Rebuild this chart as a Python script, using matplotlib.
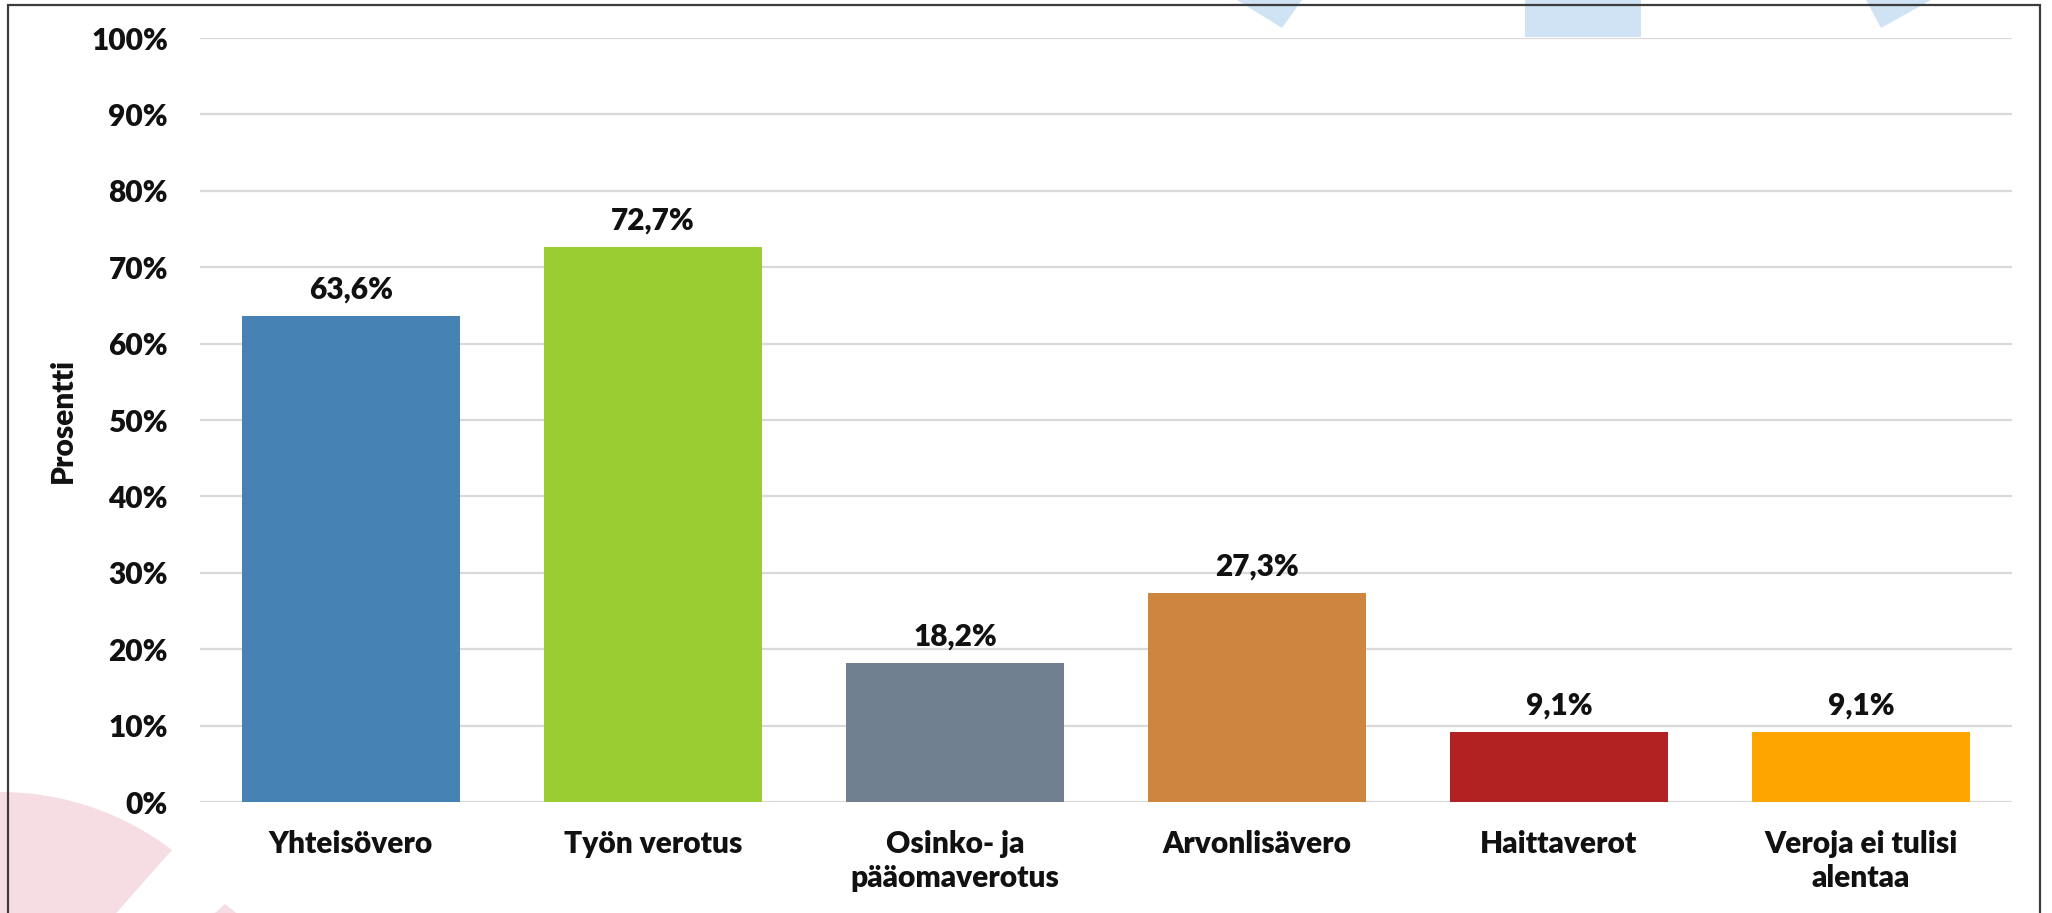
import matplotlib
matplotlib.use("Agg")
import matplotlib.pyplot as plt
from matplotlib.patches import Polygon, Rectangle
import numpy as np

categories = ["Yhteisövero", "Työn verotus", "Osinko- ja\npääomaverotus",
              "Arvonlisävero", "Haittaverot", "Veroja ei tulisi\nalentaa"]
values = [63.6, 72.7, 18.2, 27.3, 9.1, 9.1]
value_labels = ["63,6%", "72,7%", "18,2%", "27,3%", "9,1%", "9,1%"]
colors = ["#4682B4", "#9ACD32", "#708090", "#CD853F", "#B22222", "#FFA500"]
yticks = [0, 10, 20, 30, 40, 50, 60, 70, 80, 90, 100]
ytick_labels = [f"{t}%" for t in yticks]

W, H = 2052, 913
plt.rcParams['font.family'] = ['Lato', 'DejaVu Sans']
fig = plt.figure(figsize=(W / 100, H / 100), dpi=100)
FW = "heavy"
FS = 21.5

def fp(x, y):
    return (x / W, 1 - y / H)

# background decorations
blue = "#cfe3f4"
pink = "#f6dde3"
deco = [
    Polygon([fp(1237, 0), fp(1302, 0), fp(1282, 28)], closed=True),
    Polygon([fp(1525, 0), fp(1641, 0), fp(1641, 37), fp(1525, 37)], closed=True),
    Polygon([fp(1866, 0), fp(1931, 0), fp(1881, 28)], closed=True),
]
for p in deco:
    p.set_facecolor(blue); p.set_edgecolor("none"); p.set_transform(fig.transFigure)
    p.set_zorder(0)
    fig.add_artist(p)

# pink sector bottom-left
cx, cy, R = 0, 1076, 284
angs = np.linspace(np.pi / 2 + 0.3, np.arctan2(1076 - 850, 172), 60)
pts = [fp(cx + R * np.cos(a), cy - R * np.sin(a)) for a in angs]
pts += [fp(110, 920), fp(-20, 920)]
ps = Polygon(pts, closed=True, facecolor=pink, edgecolor="none",
             transform=fig.transFigure, zorder=0)
fig.add_artist(ps)
ps2 = Polygon([fp(225, 904), fp(245, 920), fp(207, 920)], closed=True,
              facecolor=pink, edgecolor="none", transform=fig.transFigure, zorder=0)
fig.add_artist(ps2)

# frame
frame = Rectangle(fp(8, 930), (2040 - 8) / W, (930 - 5) / H, fill=False,
                  edgecolor="#3c3c3c", linewidth=1.6, transform=fig.transFigure, zorder=1)
fig.add_artist(frame)

ax = fig.add_axes([200 / W, 1 - 802 / H, (2012 - 200) / W, (802 - 38) / H])
ax.set_facecolor("none")
x = np.arange(len(categories))
bars = ax.bar(x, values, width=0.72, color=colors, zorder=3)
for xi, v, lab in zip(x, values, value_labels):
    ax.annotate(lab, (xi, v), xytext=(0, 9), textcoords="offset points",
                ha="center", va="bottom", fontsize=FS, fontweight=FW, color="#111111")

ax.set_xlim(-0.5, len(categories) - 0.5)
ax.set_ylim(0, 100)
ax.set_yticks(yticks)
ax.set_yticklabels(ytick_labels)
ax.set_xticks(x)
ax.set_xticklabels(categories, linespacing=1.25)
ax.tick_params(axis="both", length=0, labelsize=FS, colors="#111111")
ax.tick_params(axis="y", pad=23)
ax.tick_params(axis="x", pad=20)
for lbl in ax.get_xticklabels() + ax.get_yticklabels():
    lbl.set_fontweight(FW)
ax.grid(axis="y", color="#d9d9d9", linewidth=1.6, zorder=0)
ax.set_axisbelow(True)
for s in ax.spines.values():
    s.set_visible(False)
ax.set_ylabel("Prosentti", fontsize=FS, fontweight=FW, color="#111111")
ax.yaxis.set_label_coords(-0.068, 0.5)

fig.savefig("out.png", dpi=100)
